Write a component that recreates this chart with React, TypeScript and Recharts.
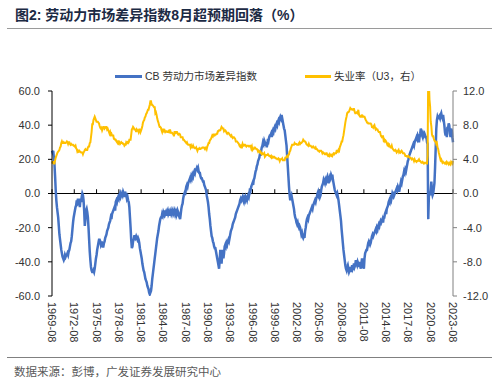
import { LineChart, Line, XAxis, YAxis, ReferenceLine } from "recharts"

// CB labor differential, monthly from 1969-08 to 2023-08
const differential = [
  25, 24, 25, 21, 17,
  10, 2, -4, -8, -11, -14, -19, -24, -27, -30, -33, -35,
  -37, -38, -39, -38, -36, -37, -36, -36, -35, -36, -34, -33,
  -31, -29, -28, -25, -21, -17, -14, -12, -10, -8, -7, -4,
  -5, -3, -7, -4, -8, -3, -5, -2, 0, -1, -4, -10,
  -19, -15, -10, -9, -11, -14, -20, -27, -34, -39, -43, -45,
  -46, -46, -45, -46, -44, -41, -38, -36, -33, -31, -29, -27,
  -27, -28, -30, -29, -28, -31, -31, -29, -28, -26, -25, -24,
  -22, -21, -20, -18, -17, -16, -14, -15, -12, -11, -10, -9,
  -8, -10, -5, -4, -5, -3, -2, -3, -1, 0, -2, -1,
  0, -1, 1, 0, -2, 1, 0, -1, -3, -2, -4, -5,
  -8, -14, -20, -27, -32, -31, -28, -27, -25, -25, -26, -25,
  -26, -27, -26, -27, -29, -32, -34, -36, -38, -41, -43, -45,
  -46, -48, -50, -51, -52, -54, -55, -56, -58, -59, -58, -57,
  -54, -50, -47, -44, -41, -38, -35, -32, -29, -26, -24, -22,
  -19, -17, -15, -14, -14, -12, -13, -11, -12, -10, -12, -11,
  -13, -11, -10, -12, -11, -13, -11, -10, -12, -11, -10, -12,
  -11, -10, -12, -11, -13, -12, -10, -11, -13, -14, -15, -12,
  -9, -7, -6, -3, -1, 0, -1, 2, 4, 5, 4, 6,
  7, 8, 9, 8, 10, 9, 11, 10, 12, 13, 12, 14,
  14, 15, 14, 15, 13, 12, 12, 10, 9, 9, 8, 7,
  7, 5, 4, 3, 2, -1, -3, -5, -8, -12, -15, -19,
  -22, -25, -26, -28, -29, -31, -32, -32, -34, -36, -38, -40,
  -42, -44, -39, -33, -38, -41, -36, -33, -38, -35, -31, -30,
  -31, -29, -30, -28, -27, -28, -26, -24, -22, -21, -20, -18,
  -17, -16, -15, -14, -12, -11, -10, -9, -8, -7, -6, -4,
  -3, -4, -3, -2, -4, -5, -3, -4, -2, -3, -4, -2,
  -1, -2, 0, 3, 2, 4, 5, 6, 5, 8, 9, 11,
  13, 14, 16, 17, 19, 20, 21, 23, 22, 25, 27, 28,
  30, 29, 31, 30, 28, 30, 27, 29, 32, 31, 33, 34,
  34, 35, 33, 36, 37, 36, 38, 39, 38, 40, 41, 40,
  42, 43, 42, 44, 45, 44, 46, 44, 42, 40, 38, 37,
  34, 31, 28, 22, 16, 10, 4, -1, -4, -2, -1, -3,
  -5, -7, -9, -12, -14, -15, -17, -18, -17, -19, -20, -19,
  -20, -22, -24, -23, -25, -26, -25, -26, -22, -20, -17, -15,
  -14, -15, -13, -12, -11, -10, -9, -8, -9, -7, -6, -5,
  -4, -5, -3, -2, 0, 1, -1, 0, -2, -1, 2, 4,
  5, 6, 8, 7, 6, 8, 7, 9, 10, 8, 6, 9,
  10, 9, 11, 10, 11, 8, 6, 4, 2, 1, 0, -1,
  0, -2, -4, -7, -10, -13, -16, -21, -25, -29, -33, -36,
  -39, -42, -44, -45, -43, -42, -44, -46, -45, -43, -46, -44,
  -42, -44, -43, -41, -43, -42, -39, -41, -42, -40, -41, -43,
  -40, -42, -44, -41, -38, -40, -43, -44, -38, -35, -34, -33,
  -33, -31, -29, -28, -29, -30, -29, -27, -25, -24, -25, -24,
  -23, -22, -21, -22, -20, -21, -19, -18, -19, -17, -16, -17,
  -16, -15, -17, -14, -14, -12, -11, -12, -9, -8, -7, -5,
  -4, -5, -3, -4, -2, 0, -1, 1, -1, 0, 1, 2,
  3, 2, 4, 3, 1, 3, 5, 7, 6, 8, 10, 11,
  13, 12, 14, 13, 15, 17, 19, 20, 22, 23, 24, 25,
  26, 27, 28, 29, 28, 30, 31, 32, 33, 32, 34, 33,
  30, 33, 35, 38, 36, 34, 33, 35, 34, 35, 34, 33,
  33, 30, 29, -15, -2, 1, -1, 2, 7, 1, -1, 0,
  3, 6, 15, 26, 38, 43, 45, 44, 44, 45, 44, 46,
  47, 45, 44, 46, 43, 40, 36, 34, 38, 33, 39, 38,
  41, 40, 35, 33, 38, 37, 33, 30,
]

// U3 unemployment rate (%), monthly from 1969-08 to 2023-08
const unemployment = [
  3.5, 3.7, 3.7, 3.5, 3.5,
  3.9, 4.2, 4.4, 4.6, 4.8, 4.9, 5.0, 5.1, 5.4, 5.5, 5.9, 6.1,
  5.9, 5.9, 6.0, 5.9, 5.9, 5.9, 6.0, 6.1, 6.0, 5.8, 6.0, 6.0,
  5.8, 5.7, 5.8, 5.7, 5.7, 5.7, 5.6, 5.6, 5.5, 5.6, 5.3, 5.2,
  4.9, 5.0, 4.9, 5.0, 4.9, 4.9, 4.8, 4.8, 4.8, 4.6, 4.8, 4.9,
  5.1, 5.2, 5.1, 5.1, 5.1, 5.4, 5.5, 5.5, 5.9, 6.0, 6.6, 7.2,
  8.1, 8.1, 8.6, 8.8, 9.0, 8.8, 8.6, 8.4, 8.4, 8.4, 8.3, 8.2,
  7.9, 7.7, 7.6, 7.7, 7.4, 7.6, 7.8, 7.8, 7.6, 7.7, 7.8, 7.8,
  7.5, 7.6, 7.4, 7.2, 7.0, 7.2, 6.9, 7.0, 6.8, 6.8, 6.8, 6.4,
  6.4, 6.3, 6.3, 6.1, 6.0, 5.9, 6.2, 5.9, 6.0, 5.8, 5.9, 6.0,
  5.9, 5.9, 5.8, 5.8, 5.6, 5.7, 5.7, 6.0, 5.9, 6.0, 5.9, 6.0,
  6.3, 6.3, 6.3, 6.9, 7.5, 7.6, 7.8, 7.7, 7.5, 7.5, 7.5, 7.2,
  7.5, 7.4, 7.4, 7.2, 7.5, 7.5, 7.2, 7.4, 7.6, 7.9, 8.3, 8.5,
  8.6, 8.9, 9.0, 9.3, 9.4, 9.6, 9.8, 9.8, 10.1, 10.4, 10.8, 10.8,
  10.4, 10.4, 10.3, 10.2, 10.1, 10.1, 9.4, 9.5, 9.2, 8.8, 8.5, 8.3,
  8.0, 7.8, 7.8, 7.7, 7.4, 7.2, 7.5, 7.5, 7.3, 7.4, 7.2, 7.3,
  7.3, 7.2, 7.2, 7.3, 7.2, 7.4, 7.4, 7.1, 7.1, 7.1, 7.0, 7.0,
  6.7, 7.2, 7.2, 7.1, 7.2, 7.2, 7.0, 6.9, 7.0, 7.0, 6.9, 6.6,
  6.6, 6.6, 6.6, 6.3, 6.3, 6.2, 6.1, 6.0, 5.9, 6.0, 5.8, 5.7,
  5.7, 5.7, 5.7, 5.4, 5.6, 5.4, 5.4, 5.6, 5.4, 5.4, 5.3, 5.3,
  5.4, 5.2, 5.0, 5.2, 5.2, 5.3, 5.2, 5.2, 5.3, 5.3, 5.4, 5.4,
  5.4, 5.3, 5.2, 5.4, 5.4, 5.2, 5.5, 5.7, 5.9, 5.9, 6.2, 6.3,
  6.4, 6.6, 6.8, 6.7, 6.9, 6.9, 6.8, 6.9, 6.9, 7.0, 7.0, 7.3,
  7.3, 7.4, 7.4, 7.4, 7.6, 7.8, 7.7, 7.6, 7.6, 7.3, 7.4, 7.4,
  7.3, 7.1, 7.0, 7.1, 7.1, 7.0, 6.9, 6.8, 6.7, 6.8, 6.6, 6.5,
  6.6, 6.6, 6.5, 6.4, 6.1, 6.1, 6.1, 6.0, 5.9, 5.8, 5.6, 5.5,
  5.6, 5.4, 5.4, 5.8, 5.6, 5.6, 5.7, 5.7, 5.6, 5.5, 5.6, 5.6,
  5.6, 5.5, 5.5, 5.6, 5.6, 5.3, 5.5, 5.1, 5.2, 5.2, 5.4, 5.4,
  5.3, 5.2, 5.2, 5.1, 4.9, 5.0, 4.9, 4.8, 4.9, 4.7, 4.6, 4.7,
  4.6, 4.6, 4.7, 4.3, 4.4, 4.5, 4.5, 4.5, 4.6, 4.5, 4.4, 4.4,
  4.3, 4.4, 4.2, 4.3, 4.2, 4.3, 4.3, 4.2, 4.2, 4.1, 4.1, 4.0,
  4.0, 4.1, 4.0, 3.8, 4.0, 4.0, 4.0, 4.1, 3.9, 3.9, 3.9, 3.9,
  4.2, 4.2, 4.3, 4.4, 4.3, 4.5, 4.6, 4.9, 5.0, 5.3, 5.5, 5.7,
  5.7, 5.7, 5.7, 5.9, 5.8, 5.8, 5.8, 5.7, 5.7, 5.7, 5.9, 6.0,
  5.8, 5.9, 5.9, 6.0, 6.1, 6.3, 6.2, 6.1, 6.1, 6.0, 5.8, 5.7,
  5.7, 5.6, 5.8, 5.6, 5.6, 5.6, 5.5, 5.4, 5.4, 5.5, 5.4, 5.4,
  5.3, 5.4, 5.2, 5.2, 5.1, 5.0, 5.0, 4.9, 5.0, 5.0, 5.0, 4.9,
  4.7, 4.8, 4.7, 4.7, 4.6, 4.6, 4.7, 4.7, 4.5, 4.4, 4.5, 4.4,
  4.6, 4.5, 4.4, 4.5, 4.4, 4.6, 4.7, 4.6, 4.7, 4.7, 4.7, 5.0,
  5.0, 4.9, 5.1, 5.0, 5.4, 5.6, 5.8, 6.1, 6.1, 6.5, 6.8, 7.3,
  7.8, 8.3, 8.7, 9.0, 9.4, 9.5, 9.5, 9.6, 9.8, 10.0, 9.9, 9.9,
  9.8, 9.8, 9.9, 9.9, 9.6, 9.4, 9.4, 9.5, 9.5, 9.4, 9.8, 9.3,
  9.1, 9.0, 9.0, 9.1, 9.0, 9.1, 9.0, 9.0, 9.0, 8.8, 8.6, 8.5,
  8.3, 8.3, 8.2, 8.2, 8.2, 8.2, 8.2, 8.1, 7.8, 7.8, 7.7, 7.9,
  8.0, 7.7, 7.5, 7.6, 7.5, 7.5, 7.3, 7.2, 7.2, 7.2, 6.9, 6.7,
  6.6, 6.7, 6.7, 6.2, 6.3, 6.1, 6.2, 6.1, 5.9, 5.7, 5.8, 5.6,
  5.7, 5.5, 5.4, 5.4, 5.6, 5.3, 5.2, 5.1, 5.0, 5.0, 5.1, 5.0,
  4.8, 4.9, 5.0, 5.1, 4.8, 4.9, 4.8, 4.9, 5.0, 4.9, 4.7, 4.7,
  4.7, 4.6, 4.4, 4.4, 4.4, 4.3, 4.3, 4.4, 4.3, 4.2, 4.2, 4.1,
  4.0, 4.1, 4.0, 4.0, 3.8, 4.0, 3.8, 3.8, 3.7, 3.8, 3.8, 3.9,
  4.0, 3.8, 3.8, 3.7, 3.6, 3.6, 3.7, 3.6, 3.5, 3.6, 3.6, 3.6,
  3.5, 3.5, 4.4, 14.7, 13.2, 11.0, 10.2, 8.4, 7.9, 6.9, 6.7, 6.7,
  6.4, 6.2, 6.1, 6.1, 5.8, 5.9, 5.4, 5.2, 4.8, 4.5, 4.2, 3.9,
  4.0, 3.8, 3.6, 3.7, 3.6, 3.6, 3.5, 3.6, 3.5, 3.7, 3.6, 3.5,
  3.4, 3.6, 3.5, 3.4, 3.7, 3.6, 3.5, 3.8,
]

const tickLabels = [
  "1969-08", "1972-08", "1975-08", "1978-08", "1981-08", "1984-08", "1987-08",
  "1990-08", "1993-08", "1996-08", "1999-08", "2002-08", "2005-08", "2008-08",
  "2011-08", "2014-08", "2017-08", "2020-08", "2023-08",
]

const leftTicks = [-60, -40, -20, 0, 20, 40, 60]
const rightTicks = [-12, -8, -4, 0, 4, 8, 12]

// month labels "YYYY-MM" starting at 1969-08
const months = differential.map((_, i) => {
  const t = 1969 * 12 + 7 + i
  return `${Math.floor(t / 12)}-${String((t % 12) + 1).padStart(2, "0")}`
})

const data = months.map((month, i) => ({ month, diff: differential[i], unemp: unemployment[i] }))

const BLUE = "#4472C4"
const YELLOW = "#FFC000"
const LATIN = "'Liberation Sans', Arial, sans-serif"
const CJK = "'Liberation Sans', 'Noto Sans CJK SC', sans-serif"

function XTick({ x, y, payload }: any) {
  return (
    <text transform={`translate(${x},${y}) rotate(90)`} textAnchor="start" dominantBaseline="central"
      fontSize={11} fill="#333" fontFamily={LATIN}>
      {payload.value}
    </text>
  )
}

export default function App() {
  return (
    <div style={{ position: "absolute", left: 0, top: 0, width: 500, height: 380, background: "#fff", fontFamily: CJK }}>
      <LineChart width={500} height={380} data={data} margin={{ top: 91, right: 7, bottom: 22, left: 8 }}>
        <XAxis dataKey="month" scale="point" interval={35} axisLine={false} tickLine={false}
          tickSize={0} tickMargin={6} height={62} tick={<XTick />} />
        <YAxis yAxisId="left" domain={[-60, 60]} ticks={leftTicks} width={44} allowDataOverflow
          tickFormatter={(v: number) => v.toFixed(1)} stroke="#000" tickSize={4} tickMargin={8}
          tick={{ fontSize: 11, fill: "#333", fontFamily: LATIN }} />
        <YAxis yAxisId="right" orientation="right" domain={[-12, 12]} ticks={rightTicks} width={40} allowDataOverflow
          tickFormatter={(v: number) => v.toFixed(1)} stroke="#808080" tickSize={4} tickMargin={6}
          tick={{ fontSize: 11, fill: "#333", fontFamily: LATIN }} />
        <ReferenceLine yAxisId="left" y={0} stroke="#000" strokeWidth={1} />
        {tickLabels.map((m) => (
          <ReferenceLine key={m} yAxisId="left" stroke="#000" strokeWidth={1}
            segment={[{ x: m, y: 0 }, { x: m, y: 2.5 }]} />
        ))}
        <Line yAxisId="left" type="linear" dataKey="diff" stroke={BLUE} strokeWidth={2.5}
          dot={false} isAnimationActive={false} />
        <Line yAxisId="right" type="linear" dataKey="unemp" stroke={YELLOW} strokeWidth={2}
          dot={false} isAnimationActive={false} />
      </LineChart>

      <div style={{ position: "absolute", left: 15, top: 4, fontSize: 14, fontWeight: 700, color: "#1c2a44", whiteSpace: "nowrap" }}>
        图2: 劳动力市场差异指数8月超预期回落（%）
      </div>
      <div style={{ position: "absolute", left: 7, top: 28, width: 485, borderTop: "1.5px solid #9a9a9a" }} />

      <div style={{ position: "absolute", left: 115, top: 75, width: 27, height: 3, background: BLUE }} />
      <div style={{ position: "absolute", left: 145, top: 68, fontSize: 10.5, lineHeight: "16px", color: "#333", whiteSpace: "nowrap" }}>
        CB 劳动力市场差异指数
      </div>
      <div style={{ position: "absolute", left: 305, top: 75, width: 26, height: 3, background: YELLOW }} />
      <div style={{ position: "absolute", left: 334, top: 68, fontSize: 10.5, lineHeight: "16px", color: "#333", whiteSpace: "nowrap" }}>
        失业率（U3，右）
      </div>

      <div style={{ position: "absolute", left: 7, top: 357, width: 485, borderTop: "1px solid #808080" }} />
      <div style={{ position: "absolute", left: 14, top: 364, fontSize: 11.5, lineHeight: "16px", color: "#595959", whiteSpace: "nowrap" }}>
        数据来源：彭博，广发证券发展研究中心
      </div>
    </div>
  )
}
